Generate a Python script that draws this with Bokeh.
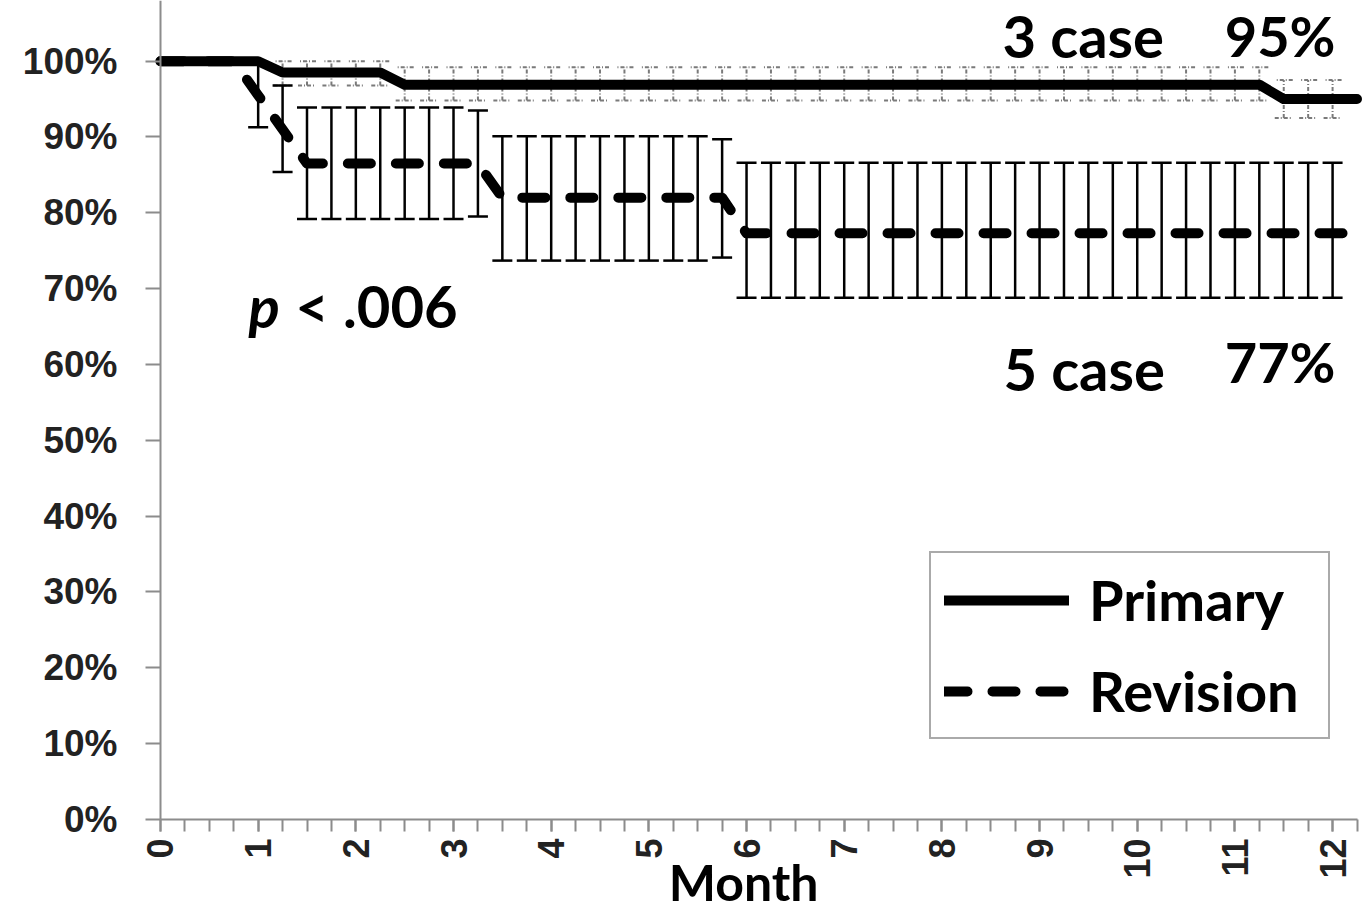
import math
from bokeh.plotting import figure
from bokeh.models import (ColumnDataSource, Whisker, TeeHead, FixedTicker,
                          Legend, LegendItem, Label, Range1d)
from bokeh.embed import file_html
from bokeh.resources import INLINE

# ---------------- data ----------------
months = [0.0, 0.25, 0.5, 0.75, 1.0, 1.25, 1.5, 1.75, 2.0, 2.25, 2.5, 2.75,
          3.0, 3.25, 3.5, 3.75, 4.0, 4.25, 4.5, 4.75, 5.0, 5.25, 5.5, 5.75,
          6.0, 6.25, 6.5, 6.75, 7.0, 7.25, 7.5, 7.75, 8.0, 8.25, 8.5, 8.75,
          9.0, 9.25, 9.5, 9.75, 10.0, 10.25, 10.5, 10.75, 11.0, 11.25, 11.5,
          11.75, 12.0, 12.25]

primary = [100, 100, 100, 100, 100,
           98.5, 98.5, 98.5, 98.5, 98.5,
           96.9, 96.9, 96.9, 96.9, 96.9, 96.9, 96.9, 96.9, 96.9, 96.9, 96.9, 96.9,
           96.9, 96.9, 96.9, 96.9, 96.9, 96.9, 96.9, 96.9, 96.9, 96.9, 96.9, 96.9,
           96.9, 96.9, 96.9, 96.9, 96.9, 96.9, 96.9, 96.9, 96.9, 96.9, 96.9, 96.9,
           95.0, 95.0, 95.0, 95.0]

revision = [100, 100, 100, 100,
            95.5, 91.0,
            86.5, 86.5, 86.5, 86.5, 86.5, 86.5, 86.5, 86.5,
            82.0, 82.0, 82.0, 82.0, 82.0, 82.0, 82.0, 82.0, 82.0, 82.0,
            77.3, 77.3, 77.3, 77.3, 77.3, 77.3, 77.3, 77.3, 77.3, 77.3, 77.3, 77.3,
            77.3, 77.3, 77.3, 77.3, 77.3, 77.3, 77.3, 77.3, 77.3, 77.3, 77.3, 77.3,
            77.3, 77.3]

primary_err_x = months[5:49]
primary_upper = [100.0] * 5 + [99.2] * 36 + [97.5] * 3
primary_lower = [96.8] * 5 + [94.8] * 36 + [92.5] * 3

revision_err_x = months[4:49]
revision_upper = ([99.9, 96.8] + [93.9] * 7 + [93.5] + [90.1] * 9 + [89.7]
                  + [86.6] * 25)
revision_lower = ([91.3, 85.4] + [79.2] * 7 + [79.5] + [73.7] * 9 + [74.1]
                  + [68.8] * 25)

y_ticks = [0, 10, 20, 30, 40, 50, 60, 70, 80, 90, 100]
y_tick_labels = ["0%", "10%", "20%", "30%", "40%", "50%", "60%", "70%",
                 "80%", "90%", "100%"]
x_ticks = [0, 1, 2, 3, 4, 5, 6, 7, 8, 9, 10, 11, 12]
x_tick_labels = ["0", "1", "2", "3", "4", "5", "6", "7", "8", "9", "10", "11", "12"]

series_names = ["Primary", "Revision"]
annotations = ["3 case", "95%", "5 case", "77%"]

# ---------------- figure ----------------
p = figure(width=1365, height=913, x_range=Range1d(-1.638, 12.337),
           y_range=Range1d(-12.4, 108.0), output_backend="svg",
           toolbar_location=None, min_border_left=0, min_border_right=0,
           min_border_top=0, min_border_bottom=0)
p.outline_line_color = None
p.xgrid.visible = False
p.ygrid.visible = False
p.background_fill_color = "white"

axis_grey = "#8c8c8c"
p.yaxis.fixed_location = 0
p.yaxis.ticker = FixedTicker(ticks=y_ticks)
p.yaxis.major_label_overrides = {t: l for t, l in zip(y_ticks, y_tick_labels)}
p.yaxis.bounds = (0, 108.0)
p.yaxis.minor_tick_line_color = None
p.yaxis.major_tick_out = 15
p.yaxis.major_tick_in = 0
p.yaxis.axis_line_color = axis_grey
p.yaxis.axis_line_width = 2
p.yaxis.major_tick_line_color = axis_grey
p.yaxis.major_tick_line_width = 2
p.yaxis.major_label_text_font = "Liberation Sans"
p.yaxis.major_label_text_font_style = "bold"
p.yaxis.major_label_text_font_size = "37px"
p.yaxis.major_label_text_color = "#222222"
p.yaxis.major_label_standoff = 28

p.xaxis.fixed_location = 0
p.xaxis.bounds = (0, 12.255)
p.xaxis.ticker = FixedTicker(ticks=x_ticks, minor_ticks=months)
p.xaxis.major_label_overrides = {t: l for t, l in zip(x_ticks, x_tick_labels)}
p.xaxis.major_label_orientation = math.pi / 2
p.xaxis.major_tick_out = 12
p.xaxis.major_tick_in = 0
p.xaxis.minor_tick_out = 12
p.xaxis.minor_tick_in = 0
p.xaxis.axis_line_color = axis_grey
p.xaxis.axis_line_width = 2
p.xaxis.major_tick_line_color = axis_grey
p.xaxis.minor_tick_line_color = axis_grey
p.xaxis.major_tick_line_width = 2
p.xaxis.minor_tick_line_width = 2
p.xaxis.major_label_text_font = "Liberation Sans"
p.xaxis.major_label_text_font_style = "bold"
p.xaxis.major_label_text_font_size = "36px"
p.xaxis.major_label_text_color = "#222222"
p.xaxis.major_label_standoff = 7

# ---------------- error bars ----------------
pri_grey = "#7a7a7a"
src_p = ColumnDataSource(dict(x=primary_err_x, upper=primary_upper, lower=primary_lower))
w_p = Whisker(source=src_p, base="x", upper="upper", lower="lower",
              dimension="height", line_color=pri_grey, line_width=2,
              line_dash="4 2 1 2",
              upper_head=TeeHead(size=18, line_color=pri_grey, line_width=2, line_dash="4 2 1 2"),
              lower_head=TeeHead(size=18, line_color=pri_grey, line_width=2, line_dash="4 2 1 2"),
              level="underlay")
p.add_layout(w_p)

src_r = ColumnDataSource(dict(x=revision_err_x, upper=revision_upper, lower=revision_lower))
w_r = Whisker(source=src_r, base="x", upper="upper", lower="lower",
              dimension="height", line_color="black", line_width=2.5,
              upper_head=TeeHead(size=20, line_color="black", line_width=2.5),
              lower_head=TeeHead(size=20, line_color="black", line_width=2.5),
              level="underlay")
p.add_layout(w_r)

# ---------------- lines ----------------
r_rev = p.line(months, revision, line_width=10, line_color="black",
               line_dash="23 25", line_cap="round", line_join="round")
r_pri = p.line(months, primary, line_width=10, line_color="black",
               line_cap="round", line_join="round")

legend = Legend(items=[LegendItem(label=series_names[0], renderers=[r_pri]),
                       LegendItem(label=series_names[1], renderers=[r_rev])],
                location=(929, 174), glyph_width=125, glyph_height=24,
                label_height=24, label_width=226, label_standoff=20,
                spacing=24, padding=13, margin=0,
                label_text_font="Lato", label_text_font_style="bold",
                label_text_font_size="56px", label_text_color="black",
                border_line_color="#555555", border_line_width=2.5,
                background_fill_color="white", background_fill_alpha=1.0)
p.add_layout(legend)

# ---------------- texts ----------------
def add_label(x, y, text, align="left", style="bold", size="56px"):
    p.add_layout(Label(x=x, y=y, text=text, text_font="Lato",
                       text_font_style=style, text_font_size=size,
                       text_color="black", text_align=align,
                       text_baseline="middle"))

add_label(8.62, 103.45, annotations[0], size="58px")
add_label(12.03, 103.45, annotations[1], align="right")
add_label(8.63, 59.47, annotations[2], size="58px")
add_label(12.03, 60.34, annotations[3], align="right")
add_label(0.90, 67.73, "p", style="bold italic", size="58px")
add_label(1.38, 67.73, "< .006", size="58px")
add_label(5.97, -8.31, "Month", align="center", size="50px")

open("out.html", "w").write(file_html(p, INLINE))
